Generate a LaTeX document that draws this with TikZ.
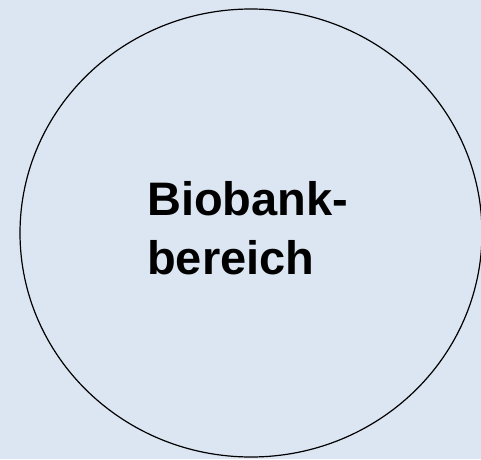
\documentclass[tikz,border=0pt]{standalone}
\usepackage{fontspec}
\setmainfont{Liberation Sans}
\definecolor{bgblue}{HTML}{DCE6F2}

\begin{document}
\begin{tikzpicture}[x=1pt,y=1pt]
            % Background and bounding box
            \fill[bgblue] (0,0) rectangle (481,459);
            \useasboundingbox (0,0) rectangle (481,459);
            \clip (0,0) rectangle (481,459);

            % Draw the area
            \draw[line width=1.2pt] (251,226) ellipse (231 and 224);

            % Label of the area (base = baseline of the last line)
            \node[anchor=base west, inner sep=0pt, align=left,
                  font=\fontsize{47}{59}\selectfont\bfseries] (bereich) at (147,185)
                {Biobank-\\bereich};

        \end{tikzpicture}
\end{document}
